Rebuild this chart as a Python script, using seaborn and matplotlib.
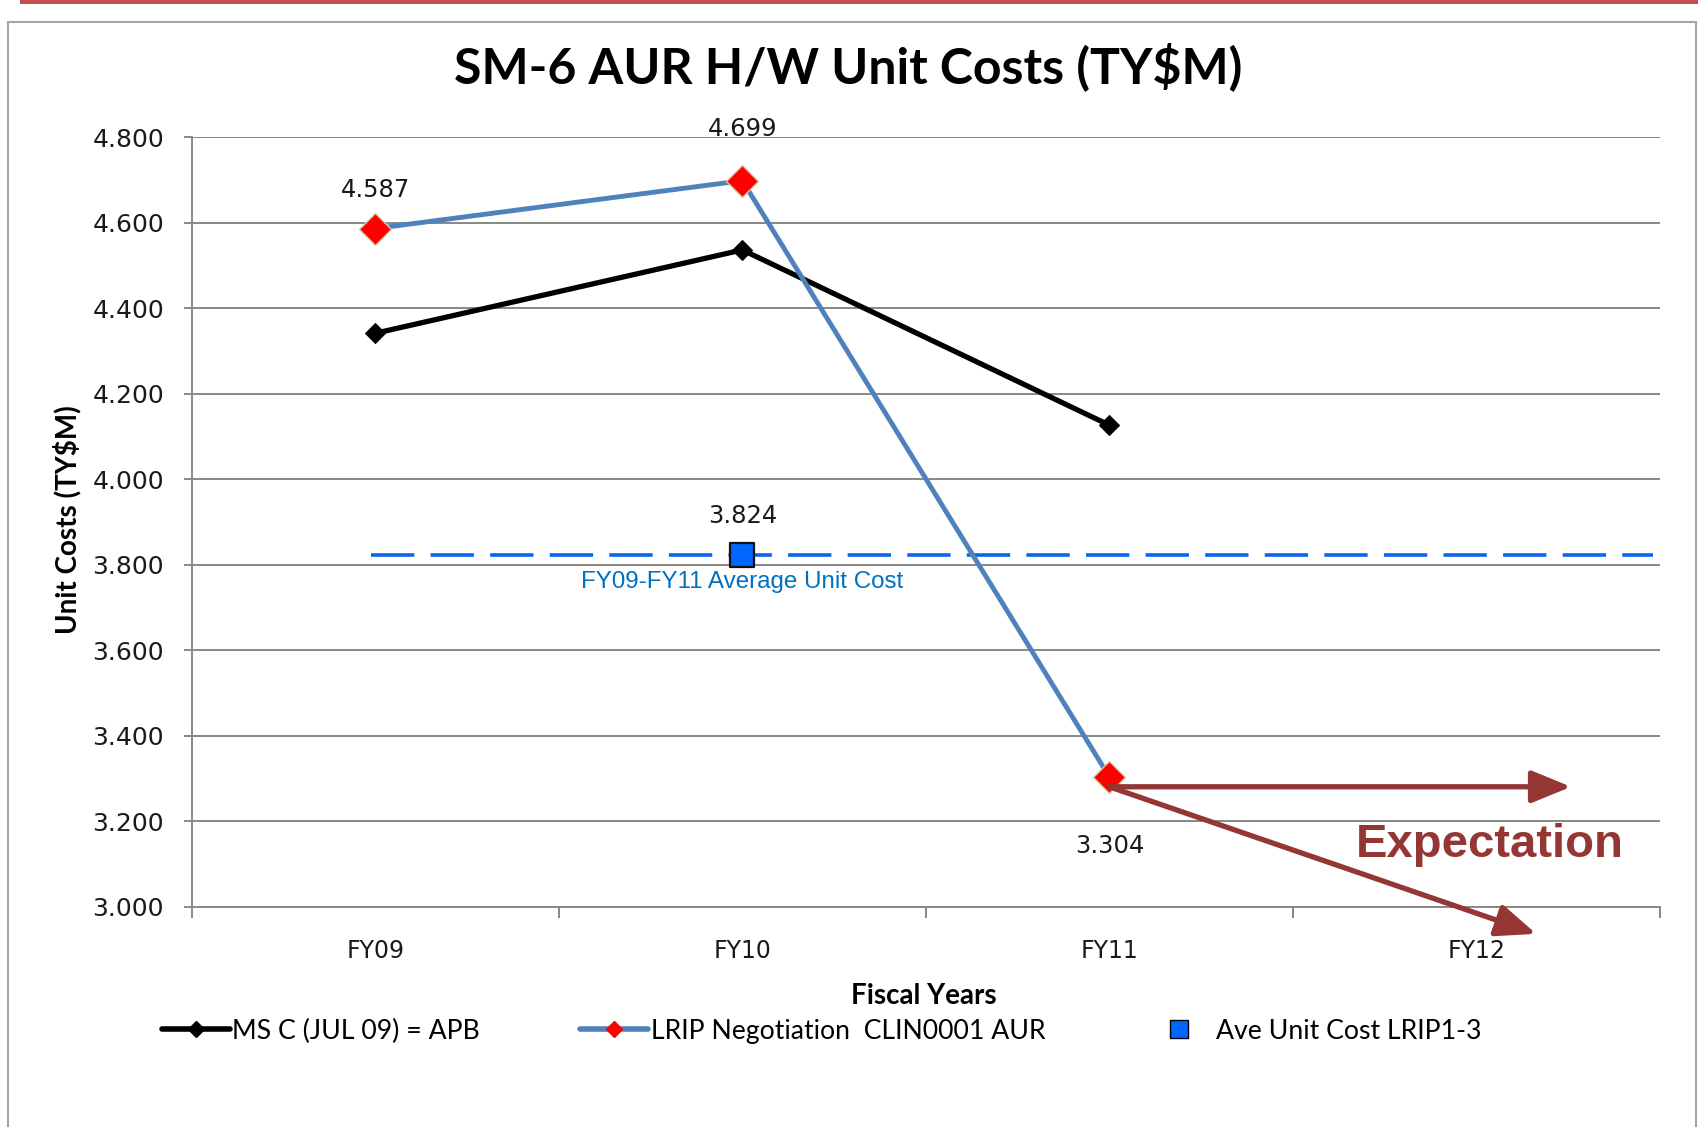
import numpy as np
import pandas as pd
import matplotlib.pyplot as plt
from matplotlib.lines import Line2D
from matplotlib.patches import Rectangle
import seaborn as sns

# values
years = ["FY09", "FY10", "FY11", "FY12"]
apb = [4.342, 4.537, 4.127]        # MS C (JUL 09) = APB
lrip = [4.587, 4.699, 3.304]       # LRIP Negotiation CLIN0001 AUR
ave_year = "FY10"
ave_cost = 3.824                   # Ave Unit Cost LRIP1-3
y_ticks = [3.0, 3.2, 3.4, 3.6, 3.8, 4.0, 4.2, 4.4, 4.6, 4.8]
# hand drawn "Expectation" arrows (start at FY11, in data units)
expect_start = (2.0, 3.281)
expect_flat = (3.258, 3.281)
expect_down = (3.163, 2.937)

sns.set_theme(style="white")
plt.rcParams["font.family"] = ["DejaVu Sans"]
plt.rcParams["text.color"] = "black"

pos = {y: i for i, y in enumerate(years)}
df = pd.DataFrame({"year": years[:3] * 2,
                   "cost": apb + lrip,
                   "series": ["apb"] * 3 + ["lrip"] * 3})
df["x"] = df["year"].map(pos)

fig = plt.figure(figsize=(16.99, 11.27), dpi=100)
ax = fig.add_axes([0.1129, 0.1953, 0.8641, 0.6827])

grid_c = "#878787"
for v in y_ticks[1:]:
    ax.axhline(v, color=grid_c, lw=1.4, zorder=0)

# average dashed line + square
ax.axhline(ave_cost, xmin=0.122, xmax=0.995, color="#0a64f0", lw=2.6,
           dashes=(12, 4.5), zorder=2)

sns.lineplot(data=df[df.series == "apb"], x="x", y="cost", ax=ax, color="black",
             lw=3.8, marker="D", markersize=10.5, markerfacecolor="black",
             markeredgecolor="black", legend=False, zorder=3)
sns.lineplot(data=df[df.series == "lrip"], x="x", y="cost", ax=ax, color="#4f81bd",
             lw=3.5, marker="D", markersize=16.5, markerfacecolor="#ff0000",
             markeredgecolor="#d8c9a0", markeredgewidth=1, legend=False, zorder=4)
sns.scatterplot(x=[pos[ave_year]], y=[ave_cost], ax=ax, marker="s", s=300,
                color="#0066ff", edgecolor="#111111", linewidth=1.6, zorder=5)

lab_kw = dict(textcoords="offset points", ha="center", va="center",
              fontsize=17.5, color="#1a1a1a")
ax.annotate(f"{lrip[0]:.3f}", (0, lrip[0]), xytext=(0, 28), **lab_kw)
ax.annotate(f"{lrip[1]:.3f}", (1, lrip[1]), xytext=(0, 37), **lab_kw)
ax.annotate(f"{lrip[2]:.3f}", (2, lrip[2]), xytext=(0, -50), **lab_kw)
ax.annotate(f"{ave_cost:.3f}", (pos[ave_year], ave_cost), xytext=(0, 28), **lab_kw)
ax.text(pos[ave_year] + 0.0, ave_cost - 0.065, "FY09-FY11 Average Unit Cost",
        ha="center", va="center", fontsize=17.4, color="#0070c0",
        family="Liberation Sans")

# expectation arrows
arr_c = "#943634"
for end in (expect_flat, expect_down):
    ax.annotate("", xy=end, xytext=expect_start, annotation_clip=False,
                arrowprops=dict(arrowstyle="-|>,head_length=1.1,head_width=0.45",
                                color=arr_c, lw=3.8, mutation_scale=22,
                                shrinkA=0, shrinkB=0), zorder=6)
ax.text(3.037, 3.145, "Expectation", ha="center", va="center", fontsize=34,
        fontweight="bold", color=arr_c, family="Liberation Sans")

ax.set_xlim(-0.5, 3.5)
ax.set_ylim(3.0, 4.8)
ax.set_yticks(y_ticks)
ax.set_yticklabels([f"{v:.3f}" for v in y_ticks])
ax.set_xticks(range(len(years)))
ax.set_xticklabels(years)
ax.set_xticks(np.arange(len(years) + 1) - 0.5, minor=True)
ax.tick_params(axis="x", which="major", length=0, pad=23, labelsize=17,
               labelcolor="#1a1a1a")
ax.tick_params(axis="x", which="minor", length=8, width=1.4, color=grid_c,
               direction="out", bottom=True)
ax.tick_params(axis="y", length=6, width=1.4, color=grid_c, left=True,
               pad=14, labelsize=18, labelcolor="#1a1a1a")
ax.set_xlabel("")
ax.set_ylabel("")
for s in ("top", "right"):
    ax.spines[s].set_visible(False)
for s in ("left", "bottom"):
    ax.spines[s].set_color(grid_c)
    ax.spines[s].set_linewidth(1.4)

fig.text(0.4993, 0.9405, "SM-6 AUR H/W Unit Costs (TY$M)", ha="center",
         va="center", fontsize=36, fontweight="bold", family="Lato")
fig.text(0.0394, 0.539, "Unit Costs (TY$M)", rotation=90, ha="center",
         va="center", fontsize=20, fontweight="bold", family="Lato")
fig.text(0.5438, 0.1163, "Fiscal Years", ha="center", va="center",
         fontsize=20, fontweight="bold", family="Lato")

handles = [
    Line2D([], [], color="black", lw=4, marker="D", markersize=8),
    Line2D([], [], color="#4f81bd", lw=4, marker="D", markersize=8,
           markerfacecolor="#ff0000", markeredgecolor="#ff0000"),
    Line2D([], [], ls="none", marker="s", markersize=13, markerfacecolor="#0066ff",
           markeredgecolor="black"),
]
labels = ["MS C (JUL 09) = APB", "LRIP Negotiation  CLIN0001 AUR",
          "Ave Unit Cost LRIP1-3"]
fig.legend(handles, labels, loc="center left", bbox_to_anchor=(0.081, 0.085),
           ncol=3, frameon=False, prop={"family": "Lato", "size": 19.2},
           handlelength=2.55, handletextpad=0.1, columnspacing=3.75)

# slide frame
fig.add_artist(Rectangle((20 / 1699, 1 - 4 / 1127), 1, 0.01, transform=fig.transFigure,
                         color="#c0504d", lw=0))
fig.add_artist(Rectangle((8 / 1699, -0.05), (1696 - 8) / 1699, 1.05 - 22 / 1127,
                         transform=fig.transFigure, fill=False, ec="#a6a6a6", lw=1.5))

fig.savefig("out.png", dpi=100)
